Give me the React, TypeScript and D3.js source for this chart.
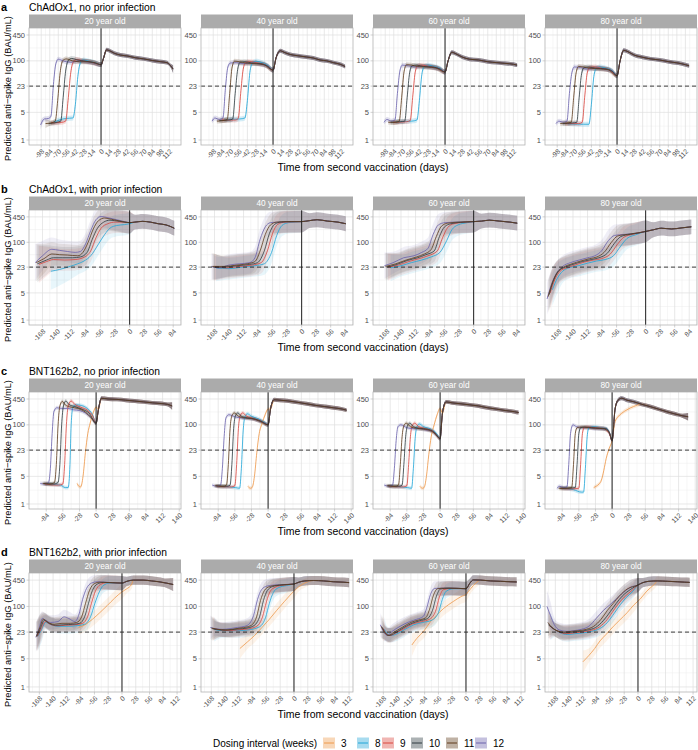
import React from 'react';
import * as d3 from 'd3';

// [day from second dose, BAU/mL, optional ribbon spread factor]
type Pt = number[];
type Curves = { [k: string]: Pt[] };

const rowLetters = ['a', 'b', 'c', 'd'];
const rowTitles = [
  'ChAdOx1, no prior infection',
  'ChAdOx1, with prior infection',
  'BNT162b2, no prior infection',
  'BNT162b2, with prior infection',
];
const ageLabels = ['20 year old', '40 year old', '60 year old', '80 year old'];
const intervals = [3, 8, 9, 10, 11, 12];
const intervalColors = ['#EE9A4D', '#22A6D8', '#D9473F', '#2E3B40', '#5E3B1C', '#6B62AC'];
const drawOrder = [3, 8, 9, 12, 10, 11];
const yTicks = [1, 5, 23, 100, 450];
const yMinor = [2.24, 10.7, 48, 212];
const xTicksA = [-98, -84, -70, -56, -42, -28, -14, 0, 14, 28, 42, 56, 70, 84, 98, 112];
const xTicksB = [-168, -140, -112, -84, -56, -28, 0, 28, 56, 84];
const xTicksC = [-84, -56, -28, 0, 28, 56, 84, 112, 140];
const xTicksD = [-168, -140, -112, -84, -56, -28, 0, 28, 56, 84, 112];

// ---- ChAdOx1, no prior infection ----
const a20: Curves = {
  12: [[-99, 2.4, 1.3], [-93, 3.4], [-86, 3.5], [-82, 4], [-78, 25], [-74, 85], [-70, 110], [-62, 100], [-50, 92], [-38, 98], [-24, 95], [-10, 88], [0, 80]],
  11: [[-91, 2.6, 1.3], [-82, 2.7], [-75, 3], [-71, 10], [-67, 50], [-63, 100], [-57, 112], [-47, 100], [-35, 95], [-20, 95], [-8, 88], [0, 80]],
  10: [[-86, 2.6], [-72, 2.8], [-66, 3], [-62, 12], [-58, 55], [-54, 100], [-48, 115], [-38, 105], [-25, 98], [-12, 90], [0, 80]],
  9: [[-82, 2.7], [-64, 2.8], [-58, 3], [-54, 10], [-50, 45], [-46, 90], [-40, 108], [-30, 100], [-16, 92], [0, 80]],
  8: [[-78, 2.8], [-58, 3.5], [-46, 3.6], [-42, 8], [-38, 40], [-34, 88], [-29, 105], [-20, 98], [-8, 88], [0, 80]],
  post: [[0, 80], [4, 115], [9, 190], [14, 180], [22, 155], [32, 140], [44, 132], [56, 120], [70, 112], [84, 102], [98, 95], [108, 90], [114, 75], [118, 62, 1.25]],
};
const a40: Curves = {
  12: [[-100, 3.0], [-95, 3.6], [-88, 3.3], [-82, 3.6], [-78, 20], [-74, 70], [-70, 88], [-60, 90], [-48, 85], [-35, 88], [-20, 82], [-8, 72], [0, 58]],
  11: [[-92, 3.0], [-82, 3.1], [-75, 3.3], [-71, 15], [-67, 70], [-63, 98], [-55, 95], [-45, 88], [-30, 85], [-15, 80], [0, 58]],
  10: [[-88, 3.1], [-72, 3.2], [-66, 3.4], [-62, 15], [-58, 60], [-54, 92], [-46, 95], [-35, 88], [-20, 85], [-8, 72], [0, 58]],
  9: [[-84, 3.2], [-62, 3.2], [-57, 3.5], [-53, 15], [-49, 60], [-45, 90], [-38, 95], [-25, 88], [-12, 78], [0, 58]],
  8: [[-80, 3.3], [-55, 3.4], [-46, 3.6], [-42, 10], [-38, 50], [-34, 88], [-28, 98], [-18, 90], [-8, 75], [0, 58]],
  post: [[0, 58], [5, 120], [12, 180], [18, 165], [28, 145], [40, 135], [55, 125], [66, 118], [77, 105], [88, 100], [99, 90], [110, 82], [118, 72]],
};
const a60: Curves = {
  12: [[-100, 2.8], [-95, 3.3], [-88, 3.0], [-82, 3.2], [-78, 15], [-74, 55], [-70, 78], [-60, 75], [-48, 70], [-35, 72], [-20, 68], [-8, 62], [0, 52]],
  11: [[-93, 2.8], [-83, 2.8], [-75, 3.0], [-71, 12], [-67, 55], [-63, 80], [-55, 78], [-45, 72], [-30, 70], [-15, 66], [0, 52]],
  10: [[-89, 2.8], [-73, 2.9], [-66, 3.0], [-62, 12], [-58, 50], [-54, 75], [-46, 78], [-35, 72], [-20, 70], [-8, 62], [0, 52]],
  9: [[-85, 2.8], [-63, 2.9], [-57, 3.1], [-53, 12], [-49, 50], [-45, 75], [-38, 78], [-25, 72], [-12, 65], [0, 52]],
  8: [[-81, 2.9], [-55, 3.0], [-46, 3.2], [-42, 10], [-38, 45], [-34, 72], [-28, 78], [-18, 72], [-8, 64], [0, 52]],
  post: [[0, 52], [5, 100], [11, 165], [18, 150], [28, 125], [40, 110], [55, 105], [70, 95], [85, 90], [100, 86], [112, 82], [118, 78]],
};
const a80: Curves = {
  12: [[-100, 2.6], [-95, 3.0], [-88, 2.8], [-82, 3.0], [-78, 15], [-74, 50], [-70, 70], [-60, 68], [-48, 62], [-35, 65], [-20, 62], [-8, 55], [0, 42]],
  11: [[-93, 2.6], [-83, 2.7], [-75, 2.8], [-71, 12], [-67, 50], [-63, 72], [-55, 70], [-45, 65], [-30, 63], [-15, 60], [0, 42]],
  10: [[-89, 2.6], [-73, 2.7], [-66, 2.8], [-62, 12], [-58, 48], [-54, 68], [-46, 70], [-35, 65], [-20, 63], [-8, 55], [0, 42]],
  9: [[-85, 2.6], [-63, 2.6], [-57, 2.8], [-53, 12], [-49, 48], [-45, 68], [-38, 70], [-25, 65], [-12, 58], [0, 42]],
  8: [[-81, 2.6], [-55, 2.5], [-46, 2.5], [-42, 8], [-38, 40], [-34, 65], [-28, 70], [-18, 65], [-8, 56], [0, 42]],
  post: [[0, 42], [5, 100], [11, 185], [18, 170], [28, 140], [40, 125], [55, 112], [70, 105], [85, 95], [100, 88], [112, 80], [118, 75]],
};

// ---- ChAdOx1, with prior infection ----
const b20: Curves = {
  12: [[-182, 30, 3], [-168, 45, 2.4], [-150, 66, 2], [-135, 62], [-120, 58], [-105, 55], [-95, 58], [-85, 90], [-75, 200], [-65, 380], [-55, 460], [-42, 430], [-25, 380], [-10, 340], [0, 320]],
  11: [[-180, 30, 3], [-165, 38, 2.4], [-150, 50, 2], [-135, 48], [-120, 47], [-100, 45], [-90, 55], [-80, 100], [-70, 220], [-60, 360], [-48, 420], [-35, 390], [-18, 350], [0, 320]],
  10: [[-178, 28, 3], [-160, 35, 2.4], [-147, 40, 2], [-130, 40], [-110, 40], [-95, 42], [-82, 55], [-72, 120], [-62, 230], [-50, 330], [-38, 370], [-20, 345], [0, 320]],
  9: [[-175, 27, 3], [-160, 32, 2.4], [-147, 36, 2], [-125, 35], [-105, 36], [-90, 40], [-75, 60], [-65, 130], [-55, 230], [-42, 300], [-28, 330], [-12, 330], [0, 320]],
  8: [[-152, 18, 3], [-135, 20, 2.6], [-115, 24, 2.2], [-100, 28], [-88, 33], [-75, 45], [-60, 90], [-48, 160], [-38, 230], [-25, 270], [-10, 285], [0, 300]],
  post: [[0, 320], [10, 330], [25, 345], [40, 330], [55, 300], [70, 280], [80, 250], [86, 230]],
};
const b40: Curves = {
  12: [[-174, 24, 2.2], [-160, 22], [-140, 26], [-120, 28], [-100, 30], [-90, 40], [-80, 120], [-70, 250], [-60, 320], [-45, 330], [-25, 340], [0, 340]],
  11: [[-172, 24, 2.2], [-150, 24], [-125, 26], [-105, 28], [-90, 32], [-80, 60], [-70, 160], [-60, 280], [-48, 330], [-30, 340], [0, 340]],
  10: [[-170, 23, 2.2], [-150, 23], [-125, 25], [-100, 27], [-85, 30], [-72, 60], [-62, 170], [-52, 290], [-40, 330], [-20, 340], [0, 340]],
  9: [[-168, 23, 2.2], [-145, 22], [-120, 24], [-95, 26], [-78, 30], [-66, 60], [-56, 170], [-46, 290], [-32, 330], [0, 340]],
  8: [[-165, 22, 2.2], [-140, 21], [-115, 23], [-90, 25], [-72, 28], [-58, 55], [-48, 150], [-38, 270], [-25, 320], [0, 340]],
  post: [[0, 340], [15, 360], [30, 380], [50, 350], [70, 330], [85, 300]],
};
const b60: Curves = {
  12: [[-172, 25, 2.2], [-155, 30], [-135, 40], [-115, 45], [-100, 55], [-88, 70], [-78, 160], [-68, 280], [-55, 320], [-35, 330], [-15, 335], [0, 340]],
  11: [[-170, 24, 2.2], [-150, 28], [-130, 35], [-110, 42], [-95, 50], [-82, 65], [-72, 140], [-62, 260], [-50, 310], [-30, 330], [0, 340]],
  10: [[-168, 23, 2.2], [-148, 27], [-128, 34], [-108, 40], [-92, 48], [-76, 60], [-66, 140], [-56, 250], [-44, 300], [-25, 325], [0, 340]],
  9: [[-165, 23, 2.2], [-145, 26], [-125, 32], [-105, 38], [-88, 45], [-70, 60], [-60, 130], [-50, 240], [-38, 300], [-20, 325], [0, 340]],
  8: [[-160, 22, 2.2], [-140, 25], [-120, 30], [-100, 35], [-82, 42], [-65, 55], [-52, 110], [-42, 210], [-30, 280], [-12, 320], [0, 340]],
  post: [[0, 340], [15, 350], [30, 370], [50, 350], [70, 330], [84, 310]],
};
const b80: Curves = {
  12: [[-190, 3.5, 2.6], [-182, 8, 2.4], [-172, 16, 2], [-160, 24], [-145, 30], [-128, 35], [-112, 40], [-98, 45], [-85, 60], [-72, 110], [-60, 150], [-40, 160], [-20, 170], [0, 190]],
  11: [[-188, 4, 2.6], [-180, 9, 2.4], [-170, 17, 2], [-158, 23], [-142, 28], [-125, 33], [-108, 38], [-94, 42], [-80, 55], [-66, 100], [-54, 145], [-35, 160], [-15, 175], [0, 190]],
  10: [[-186, 4.5, 2.6], [-178, 10, 2.4], [-168, 18, 2], [-155, 23], [-140, 27], [-122, 32], [-105, 36], [-90, 40], [-74, 52], [-60, 95], [-48, 140], [-30, 160], [-12, 175], [0, 190]],
  9: [[-184, 5, 2.6], [-175, 11, 2.4], [-165, 18, 2], [-152, 22], [-136, 26], [-118, 31], [-100, 35], [-85, 38], [-68, 50], [-54, 90], [-42, 135], [-25, 160], [0, 190]],
  8: [[-180, 6, 2.6], [-170, 12, 2.4], [-160, 18, 2], [-148, 22], [-130, 25], [-112, 29], [-95, 33], [-78, 36], [-62, 45], [-48, 80], [-36, 125], [-20, 155], [0, 190]],
  post: [[0, 190], [15, 210], [30, 230], [50, 220], [70, 235], [88, 250]],
};

// ---- BNT162b2, no prior infection ----
const c20: Curves = {
  12: [[-94, 3.3], [-86, 3.2], [-80, 3.5], [-77, 8], [-74, 60], [-71, 220], [-66, 270], [-58, 260], [-48, 260], [-38, 240], [-28, 230], [-18, 200], [-8, 150], [0, 110]],
  11: [[-90, 3.3], [-78, 3.2], [-70, 3.5], [-67, 10], [-64, 100], [-61, 300], [-57, 390], [-52, 320], [-42, 280], [-30, 260], [-18, 210], [-8, 150], [0, 110]],
  10: [[-88, 3.3], [-72, 3.2], [-64, 3.5], [-61, 10], [-58, 100], [-55, 300], [-51, 400], [-46, 330], [-36, 290], [-24, 250], [-12, 200], [0, 110]],
  9: [[-86, 3.2], [-64, 3.0], [-56, 3.2], [-53, 10], [-50, 100], [-47, 300], [-42, 400], [-36, 330], [-26, 280], [-14, 230], [-5, 160], [0, 110]],
  8: [[-84, 3.2], [-60, 3.0], [-52, 2.6], [-47, 2.6], [-44, 10], [-42, 100], [-39, 280], [-34, 320], [-25, 310], [-15, 260], [-6, 180], [0, 110]],
  3: [[-32, 3.3], [-29, 2.8], [-26, 2.7], [-22, 5], [-18, 20], [-14, 60], [-10, 110], [-5, 200], [0, 280]],
  post: [[0, 120], [4, 250], [9, 470], [20, 450], [35, 440], [50, 420], [65, 400], [80, 380], [95, 360], [110, 345], [120, 330], [128, 300, 1.25]],
};
const c40: Curves = {
  12: [[-94, 3.0], [-86, 2.8], [-80, 3.0], [-77, 8], [-74, 50], [-71, 150], [-66, 180], [-56, 160], [-45, 150], [-35, 145], [-25, 140], [-15, 125], [-6, 110], [0, 100]],
  11: [[-90, 2.9], [-76, 2.8], [-70, 3.0], [-67, 10], [-64, 80], [-61, 170], [-57, 200], [-50, 165], [-40, 150], [-28, 145], [-15, 125], [0, 100]],
  10: [[-88, 2.9], [-70, 2.8], [-64, 3.0], [-61, 10], [-58, 80], [-55, 170], [-51, 200], [-45, 165], [-35, 150], [-22, 140], [-10, 120], [0, 100]],
  9: [[-86, 2.8], [-62, 2.7], [-56, 2.9], [-53, 10], [-50, 80], [-47, 170], [-43, 200], [-36, 165], [-25, 145], [-12, 125], [0, 100]],
  8: [[-84, 2.8], [-55, 2.6], [-48, 2.5], [-45, 8], [-42, 70], [-39, 160], [-35, 190], [-28, 165], [-16, 140], [-6, 115], [0, 100]],
  3: [[-34, 2.8], [-30, 2.5], [-27, 2.6], [-23, 5], [-19, 20], [-15, 60], [-10, 110], [-5, 180], [0, 250]],
  post: [[0, 100], [4, 250], [10, 430], [20, 420], [35, 400], [50, 370], [65, 340], [80, 310], [95, 290], [110, 270], [125, 250], [132, 235]],
};
const c60: Curves = {
  12: [[-94, 3.0], [-86, 2.8], [-80, 3.0], [-77, 8], [-74, 40], [-71, 90], [-66, 100], [-56, 85], [-45, 80], [-35, 80], [-25, 75], [-15, 70], [-6, 55], [0, 45]],
  11: [[-90, 2.9], [-76, 2.8], [-70, 3.0], [-67, 10], [-64, 50], [-61, 95], [-57, 110], [-50, 90], [-40, 82], [-28, 78], [-15, 70], [-6, 55], [0, 45]],
  10: [[-88, 2.9], [-70, 2.8], [-64, 3.0], [-61, 10], [-58, 50], [-55, 95], [-51, 110], [-45, 90], [-35, 82], [-22, 78], [-10, 65], [0, 45]],
  9: [[-86, 2.8], [-62, 2.7], [-56, 2.9], [-53, 10], [-50, 50], [-47, 95], [-43, 110], [-36, 90], [-25, 80], [-12, 70], [0, 45]],
  8: [[-84, 2.8], [-55, 2.6], [-48, 2.5], [-45, 8], [-42, 45], [-39, 90], [-35, 105], [-28, 90], [-16, 78], [-6, 60], [0, 45]],
  3: [[-34, 2.8], [-30, 2.5], [-27, 2.6], [-23, 5], [-19, 18], [-15, 50], [-10, 100], [-5, 180], [0, 260]],
  post: [[0, 45], [4, 200], [10, 380], [20, 360], [35, 340], [50, 320], [65, 300], [80, 270], [95, 250], [110, 230], [125, 215], [132, 205]],
};
const c80: Curves = {
  12: [[-93, 2.5], [-88, 2.8], [-82, 2.6], [-76, 2.7], [-73, 10], [-70, 60], [-66, 100], [-60, 90], [-50, 85], [-40, 85], [-30, 80], [-20, 80], [-10, 78], [-4, 60], [0, 40]],
  11: [[-90, 2.5], [-80, 2.5], [-68, 2.6], [-65, 10], [-62, 60], [-59, 85], [-52, 88], [-40, 85], [-28, 82], [-15, 80], [-5, 65], [0, 40]],
  10: [[-88, 2.5], [-75, 2.5], [-62, 2.6], [-59, 10], [-56, 60], [-53, 85], [-46, 88], [-35, 85], [-22, 82], [-10, 80], [-4, 60], [0, 40]],
  9: [[-86, 2.5], [-70, 2.4], [-56, 2.5], [-53, 10], [-50, 60], [-47, 85], [-40, 88], [-28, 85], [-15, 82], [-5, 62], [0, 40]],
  8: [[-84, 2.5], [-65, 2.3], [-52, 2.0], [-48, 2.0], [-45, 8], [-42, 50], [-39, 85], [-32, 90], [-20, 85], [-10, 80], [-4, 60], [0, 40]],
  3: [[-31, 2.6], [-27, 2.8], [-22, 3.2], [-18, 4], [-14, 7], [-10, 14], [-5, 25], [0, 40], [5, 120], [10, 160], [16, 195], [25, 240], [36, 290]],
  post: [[0, 40], [5, 250], [10, 420], [16, 470], [25, 420], [36, 385], [50, 330], [64, 290], [78, 250], [92, 215], [105, 190], [118, 170], [128, 160, 1.25]],
};

// ---- BNT162b2, with prior infection ----
const d20: Curves = {
  12: [[-175, 17, 2.3], [-168, 30, 2], [-162, 50], [-155, 45], [-145, 40], [-130, 42], [-118, 55], [-108, 50], [-96, 42], [-88, 60], [-80, 150], [-72, 280], [-62, 380], [-50, 410], [-35, 400], [-20, 390], [0, 380]],
  11: [[-174, 18, 2.3], [-166, 32, 2], [-160, 48], [-150, 40], [-138, 36], [-122, 38], [-105, 38], [-92, 40], [-82, 55], [-74, 120], [-66, 250], [-56, 370], [-45, 400], [-25, 390], [0, 380]],
  10: [[-173, 18, 2.3], [-165, 30, 2], [-158, 45], [-148, 38], [-135, 34], [-118, 35], [-100, 36], [-86, 38], [-76, 55], [-68, 120], [-60, 250], [-50, 360], [-38, 395], [-20, 390], [0, 380]],
  9: [[-172, 18, 2.3], [-164, 28, 2], [-156, 42], [-146, 36], [-132, 33], [-115, 34], [-96, 35], [-80, 38], [-70, 55], [-62, 120], [-54, 240], [-44, 350], [-30, 390], [0, 380]],
  8: [[-171, 18, 2.3], [-163, 27, 2], [-155, 40], [-144, 35], [-130, 32], [-112, 32], [-94, 33], [-76, 36], [-64, 55], [-55, 120], [-46, 230], [-38, 330], [-25, 380], [0, 380]],
  3: [[-88, 30], [-75, 35], [-60, 48], [-45, 70], [-30, 105], [-15, 160], [0, 230], [9, 270], [20, 360]],
  post: [[0, 380], [10, 420], [23, 450], [43, 450], [60, 430], [75, 410], [90, 380], [104, 350, 1.45]],
};
const d40: Curves = {
  12: [[-170, 30, 2], [-160, 28], [-145, 27], [-130, 28], [-115, 30], [-100, 32], [-90, 38], [-82, 60], [-74, 150], [-66, 260], [-55, 320], [-40, 340], [-20, 350], [0, 360]],
  11: [[-168, 29, 2], [-155, 27], [-140, 26], [-125, 27], [-110, 29], [-95, 31], [-84, 36], [-76, 55], [-68, 140], [-60, 250], [-50, 310], [-30, 340], [0, 360]],
  10: [[-166, 28, 2], [-150, 26], [-135, 26], [-120, 27], [-105, 28], [-90, 30], [-78, 36], [-70, 55], [-62, 140], [-54, 250], [-44, 310], [-25, 340], [0, 360]],
  9: [[-164, 28, 2], [-148, 26], [-132, 25], [-115, 26], [-100, 27], [-85, 29], [-72, 35], [-64, 55], [-56, 130], [-48, 240], [-38, 300], [-20, 340], [0, 360]],
  8: [[-162, 27, 2], [-145, 25], [-128, 25], [-110, 25], [-95, 26], [-80, 28], [-66, 34], [-58, 52], [-50, 120], [-42, 220], [-32, 290], [-15, 330], [0, 360]],
  3: [[-110, 9, 1.8], [-95, 13], [-80, 19], [-65, 30], [-50, 48], [-35, 80], [-20, 130], [-8, 190], [0, 240], [10, 310], [22, 380]],
  post: [[0, 360], [10, 400], [22, 430], [40, 440], [60, 430], [80, 410], [100, 400], [112, 390]],
};
const d60: Curves = {
  12: [[-174, 35, 2], [-168, 24], [-160, 19], [-150, 24], [-134, 32], [-114, 42], [-100, 48], [-87, 56], [-80, 90], [-72, 200], [-64, 280], [-50, 285], [-30, 285], [-12, 280], [0, 275]],
  11: [[-172, 32, 2], [-166, 23], [-158, 19], [-146, 23], [-130, 30], [-112, 40], [-96, 46], [-82, 52], [-74, 85], [-66, 190], [-58, 275], [-40, 285], [-20, 283], [0, 275]],
  10: [[-170, 30, 2], [-164, 22], [-156, 19], [-144, 22], [-128, 29], [-110, 38], [-94, 44], [-78, 50], [-68, 80], [-60, 180], [-52, 270], [-35, 283], [-15, 280], [0, 275]],
  9: [[-168, 28, 2], [-162, 21], [-154, 19], [-142, 22], [-126, 28], [-108, 37], [-90, 42], [-74, 48], [-62, 75], [-54, 170], [-46, 260], [-30, 280], [0, 275]],
  8: [[-166, 27, 2], [-160, 21], [-152, 19], [-140, 21], [-124, 27], [-106, 35], [-88, 40], [-70, 45], [-56, 70], [-48, 150], [-40, 240], [-25, 275], [0, 275]],
  3: [[-110, 11, 1.9], [-100, 16], [-85, 25], [-72, 42], [-60, 60], [-45, 90], [-26, 132], [-10, 175], [0, 200], [10, 280], [20, 380]],
  post: [[0, 275], [8, 380], [15, 455], [30, 450], [50, 430], [70, 420], [90, 410], [103, 405]],
};
const d80: Curves = {
  12: [[-185, 100, 2.5], [-178, 60, 2.2], [-170, 35], [-160, 26], [-145, 24], [-130, 25], [-115, 27], [-100, 32], [-85, 50], [-70, 80], [-57, 110], [-45, 150], [-30, 220], [-15, 300], [0, 340]],
  11: [[-183, 40, 2.2], [-175, 30], [-165, 25], [-150, 23], [-135, 24], [-120, 25], [-105, 27], [-90, 32], [-75, 48], [-62, 80], [-50, 120], [-38, 180], [-22, 270], [0, 340]],
  10: [[-182, 35, 2.2], [-172, 28], [-162, 24], [-148, 22], [-132, 23], [-118, 24], [-102, 26], [-86, 30], [-70, 45], [-56, 75], [-44, 120], [-32, 180], [-16, 260], [0, 340]],
  9: [[-180, 33, 2.2], [-170, 27], [-160, 23], [-146, 21], [-130, 22], [-115, 23], [-98, 25], [-82, 29], [-66, 42], [-52, 72], [-40, 115], [-28, 170], [-12, 250], [0, 340]],
  8: [[-178, 32, 2.2], [-168, 26], [-158, 22], [-144, 20], [-128, 21], [-112, 22], [-95, 24], [-78, 28], [-62, 40], [-48, 68], [-36, 110], [-24, 165], [-10, 240], [0, 340]],
  3: [[-112, 4.2, 1.9], [-100, 6], [-88, 9], [-77, 14], [-65, 20], [-50, 32], [-37, 46], [-22, 70], [-8, 110], [4, 150], [18, 240], [34, 360]],
  post: [[0, 340], [10, 390], [22, 420], [40, 430], [60, 420], [80, 410], [95, 400], [105, 395]],
};

const rowFacets = [[a20, a40, a60, a80], [b20, b40, b60, b80], [c20, c40, c60, c80], [d20, d40, d60, d80]];
const rowTicks = [xTicksA, xTicksB, xTicksC, xTicksD];

// layout
const W = 698;
const H = 750;
const FONT = 'Liberation Sans, Arial, Helvetica, sans-serif';
const facetLeft = [29, 201, 373, 545];
const facetW = 152;
const rowTop = [28, 210, 392, 573];
const rowBottom = [145, 325, 509, 692];
const xDomains = [[-118, 131], [-194, 99], [-113, 143], [-189, 120]];
const yDomain = [0.748, 676];
const rowSpread = [[1.15, 1.12], [1.9, 1.55], [1.12, 1.12], [1.5, 1.3]];
const ribbonOpacity = [0.2, 0.1, 0.2, 0.12];

function buildSeries(c: Curves) {
  const post = c.post;
  return drawOrder
    .filter((iv) => c[iv])
    .map((iv) => {
      const pre = c[iv];
      const last = pre[pre.length - 1][0];
      return { iv, pts: pre.concat(post.filter((p) => p[0] > last)) };
    });
}

function Facet({ row, col }: { row: number; col: number }) {
  const left = facetLeft[col];
  const top = rowTop[row];
  const bottom = rowBottom[row];
  const x = d3.scaleLinear().domain(xDomains[row]).range([left, left + facetW]);
  const y = d3.scaleLog().domain(yDomain).range([bottom, top]);
  const ticks = rowTicks[row];
  const step = ticks[1] - ticks[0];
  const minorX = [ticks[0] - step / 2, ...ticks.map((t) => t + step / 2)].filter(
    (t) => t > xDomains[row][0] && t < xDomains[row][1]
  );
  const [preS, postS] = rowSpread[row];
  const spread = (p: Pt) => (p[2] !== undefined ? p[2] : p[0] <= 0 ? preS : postS);

  const line = d3
    .line<Pt>()
    .x((d) => x(d[0]))
    .y((d) => y(d[1]))
    .curve(d3.curveMonotoneX);
  const area = d3
    .area<Pt>()
    .x((d) => x(d[0]))
    .y0((d) => y(d[1] / spread(d)))
    .y1((d) => y(d[1] * spread(d)))
    .curve(d3.curveMonotoneX);

  const series = buildSeries(rowFacets[row][col]);
  const clipId = `clip-${row}-${col}`;
  const colorOf = (iv: number) => intervalColors[intervals.indexOf(iv)];

  return (
    <g>
      <defs>
        <clipPath id={clipId}>
          <rect x={left} y={top} width={facetW} height={bottom - top} />
        </clipPath>
      </defs>
      <rect x={left} y={top} width={facetW} height={bottom - top} fill="#fff" />
      {yMinor.map((v) => (
        <line key={'ym' + v} x1={left} x2={left + facetW} y1={y(v)} y2={y(v)} stroke="#EDEDED" strokeWidth={0.5} />
      ))}
      {minorX.map((v) => (
        <line key={'xm' + v} x1={x(v)} x2={x(v)} y1={top} y2={bottom} stroke="#EDEDED" strokeWidth={0.5} />
      ))}
      {yTicks.map((v) => (
        <line key={'yg' + v} x1={left} x2={left + facetW} y1={y(v)} y2={y(v)} stroke="#DEDEDE" strokeWidth={0.7} />
      ))}
      {ticks.map((v) => (
        <line key={'xg' + v} x1={x(v)} x2={x(v)} y1={top} y2={bottom} stroke="#DEDEDE" strokeWidth={0.7} />
      ))}
      <g clipPath={`url(#${clipId})`}>
        {series.map((s) => (
          <path
            key={'r' + s.iv}
            d={area(s.pts) || ''}
            fill={colorOf(s.iv)}
            fillOpacity={ribbonOpacity[row]}
            stroke="none"
          />
        ))}
        {series.map((s) => (
          <path
            key={'l' + s.iv}
            d={line(s.pts) || ''}
            fill="none"
            stroke={colorOf(s.iv)}
            strokeWidth={0.9}
            strokeOpacity={0.9}
          />
        ))}
        <line x1={left} x2={left + facetW} y1={y(23)} y2={y(23)} stroke="#111" strokeWidth={0.8} strokeDasharray="4,3" />
        <line x1={x(0)} x2={x(0)} y1={top} y2={bottom} stroke="#222" strokeWidth={1} />
      </g>
      <rect x={left} y={top} width={facetW} height={bottom - top} fill="none" stroke="#B3B3B3" strokeWidth={0.8} />
      <rect x={left} y={top - 13.5} width={facetW} height={13.5} fill="#ABABAB" />
      <text x={left + facetW / 2} y={top - 3.8} textAnchor="middle" fontSize={8.3} fill="#fff" fontFamily={FONT}>
        {ageLabels[col]}
      </text>
      {yTicks.map((v) => (
        <g key={'yt' + v}>
          <line x1={left - 2.5} x2={left} y1={y(v)} y2={y(v)} stroke="#B3B3B3" strokeWidth={0.6} />
          <text x={left - 4} y={y(v)} dy="0.35em" textAnchor="end" fontSize={7.5} fill="#4D4D4D" fontFamily={FONT}>
            {v}
          </text>
        </g>
      ))}
      {ticks.map((v) => (
        <g key={'xt' + v}>
          <line x1={x(v)} x2={x(v)} y1={bottom} y2={bottom + 2.5} stroke="#B3B3B3" strokeWidth={0.6} />
          <text
            transform={`translate(${x(v) + 0.5},${bottom + 4}) rotate(-45)`}
            dy="0.6em"
            textAnchor="end"
            fontSize={6.8}
            fill="#4D4D4D"
            fontFamily={FONT}
          >
            {v}
          </text>
        </g>
      ))}
    </g>
  );
}

const legendKeyX = [323, 357, 382, 411, 446, 475];

export default function App() {
  return (
    <div style={{ position: 'absolute', left: 0, top: 0 }}>
      <svg width={W} height={H} viewBox={`0 0 ${W} ${H}`} style={{ display: 'block', background: '#fff' }}>
        {rowLetters.map((letter, r) => (
          <g key={letter}>
            <text x={1} y={rowTop[r] - 17} fontSize={11} fontWeight="bold" fontFamily={FONT} fill="#000">
              {letter}
            </text>
            <text x={29} y={rowTop[r] - 17} fontSize={10.3} fontFamily={FONT} fill="#000">
              {rowTitles[r]}
            </text>
            <text
              transform={`translate(10.5,${(rowTop[r] + rowBottom[r]) / 2 + 2}) rotate(-90)`}
              textAnchor="middle"
              fontSize={9.3}
              fontFamily={FONT}
              fill="#000"
            >
              Predicted anti−spike IgG (BAU/mL)
            </text>
            <text x={363} y={rowBottom[r] + 26} textAnchor="middle" fontSize={10.5} fontFamily={FONT} fill="#000">
              Time from second vaccination (days)
            </text>
            {[0, 1, 2, 3].map((c) => (
              <Facet key={c} row={r} col={c} />
            ))}
          </g>
        ))}
        <g fontFamily={FONT} fontSize={10}>
          <text x={317} y={746.5} textAnchor="end" fill="#000">
            Dosing interval (weeks)
          </text>
          {intervals.map((iv, i) => (
            <g key={iv}>
              <rect x={legendKeyX[i]} y={737.5} width={12} height={11} fill={intervalColors[i]} fillOpacity={0.4} />
              <line x1={legendKeyX[i] + 1} x2={legendKeyX[i] + 11} y1={743} y2={743} stroke={intervalColors[i]} strokeWidth={1} />
              <text x={legendKeyX[i] + 18} y={746.5} fill="#000">
                {iv}
              </text>
            </g>
          ))}
        </g>
      </svg>
    </div>
  );
}
